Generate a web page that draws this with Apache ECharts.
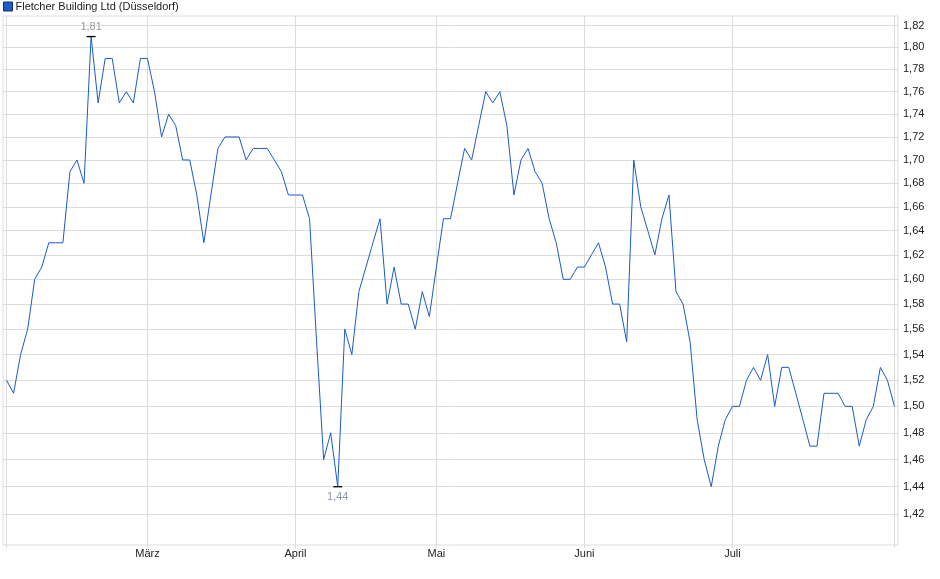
<!DOCTYPE html>
<html>
<head>
<meta charset="utf-8">
<script src="https://cdn.jsdelivr.net/npm/echarts@6/dist/echarts.min.js"></script>
<style>
html,body{margin:0;padding:0;background:#fff;}
#chart{width:940px;height:579px;}
</style>
</head>
<body>
<div id="chart"></div>
<script>
// Trading days (Börse Düsseldorf, 2025)
const febDays = [3,4,5,6,7,10,11,12,13,14,17,18,19,20,21,24,25,26,27,28];
const marDays = [3,4,5,6,7,10,11,12,13,14,17,18,19,20,21,24,25,26,27,28,31];
const aprDays = [1,2,3,4,7,8,9,10,11,14,15,16,17,22,23,24,25,28,29,30];
const mayDays = [2,5,6,7,8,9,12,13,14,15,16,19,20,21,22,23,26,27,28,29,30];
const junDays = [2,3,4,5,6,9,10,11,12,13,16,17,18,19,20,23,24,25,26,27,30];
const julDays = [1,2,3,4,7,8,9,10,11,14,15,16,17,18,21,22,23,24,25,28,29,30,31];
const augDays = [1];

// Prices (EUR)
const febValues = [1.52,1.51,1.54,1.56,1.60,1.61,1.63,1.63,1.63,1.69,1.70,1.68,1.81,1.75,1.79,1.79,1.75,1.76,1.75,1.79];
const marValues = [1.79,1.76,1.72,1.74,1.73,1.70,1.70,1.67,1.63,1.67,1.71,1.72,1.72,1.72,1.70,1.71,1.71,1.71,1.70,1.69,1.67];
const aprValues = [1.67,1.67,1.65,1.55,1.46,1.48,1.44,1.56,1.54,1.59,1.61,1.63,1.65,1.58,1.61,1.58,1.58,1.56,1.59,1.57];
const mayValues = [1.61,1.65,1.65,1.68,1.71,1.70,1.73,1.76,1.75,1.76,1.73,1.67,1.70,1.71,1.69,1.68,1.65,1.63,1.60,1.60,1.61];
const junValues = [1.61,1.62,1.63,1.61,1.58,1.58,1.55,1.70,1.66,1.64,1.62,1.65,1.67,1.59,1.58,1.55,1.49,1.46,1.44,1.47,1.49];
const julValues = [1.50,1.50,1.52,1.53,1.52,1.54,1.50,1.53,1.53,1.51,1.49,1.47,1.47,1.51,1.51,1.51,1.50,1.50,1.47,1.49,1.50,1.53,1.52];
const augValues = [1.50];

const monthKeys = ['2025-02','2025-03','2025-04','2025-05','2025-06','2025-07','2025-08'];
const monthLabels = ['', 'März', 'April', 'Mai', 'Juni', 'Juli', ''];
const yTicks = [1.42,1.44,1.46,1.48,1.50,1.52,1.54,1.56,1.58,1.60,1.62,1.64,1.66,1.68,1.70,1.72,1.74,1.76,1.78,1.80,1.82];
const seriesName = 'Fletcher Building Ltd (Düsseldorf)';

const dayLists = [febDays, marDays, aprDays, mayDays, junDays, julDays, augDays];
const valueLists = [febValues, marValues, aprValues, mayValues, junValues, julValues, augValues];

const categories = [];
const values = [];
const monthStartIdx = {};
const monthStartDates = [];
dayLists.forEach((days, m) => {
  days.forEach((d, i) => {
    const date = monthKeys[m] + '-' + String(d).padStart(2, '0');
    if (i === 0) { monthStartIdx[categories.length] = monthLabels[m]; monthStartDates.push(date); }
    categories.push(date);
    values.push(valueLists[m][i]);
  });
});

const fontFamily = 'Liberation Sans, Arial, sans-serif';
const fmt = v => Number(v).toFixed(2).replace('.', ',');

const chart = echarts.init(document.getElementById('chart'), null, {renderer: 'canvas'});
chart.setOption({
  animation: false,
  textStyle: {fontFamily: fontFamily},
  legend: {
    show: true,
    left: 3, top: 1,
    padding: 0,
    itemWidth: 9, itemHeight: 9, itemGap: 4,
    icon: 'rect',
    selectedMode: false,
    textStyle: {fontSize: 11, color: '#222', fontFamily: fontFamily, padding: [0,0,0,-2]},
    data: [{name: seriesName, itemStyle: {color: '#1c5cc4', borderColor: '#0d2f6e', borderWidth: 1}}]
  },
  grid: {
    left: 3, right: 42, top: 16, bottom: 34,
    show: true, borderColor: '#dcdcdc', borderWidth: 1,
    containLabel: false, outerBoundsMode: 'none'
  },
  xAxis: {
    type: 'category',
    data: categories,
    boundaryGap: true,
    axisLine: {show: false},
    axisTick: {
      show: true, alignWithLabel: true, length: 3,
      interval: (idx) => monthStartIdx.hasOwnProperty(idx),
      lineStyle: {color: '#dcdcdc'}
    },
    splitLine: {show: false},
    axisLabel: {
      show: true,
      interval: (idx) => !!monthStartIdx[idx],
      formatter: (val, idx) => monthStartIdx[idx] || '',
      color: '#222', fontSize: 11, margin: 3, fontFamily: fontFamily
    }
  },
  yAxis: {
    type: 'log',
    logBase: 10,
    position: 'right',
    min: 1.398, max: 1.829,
    axisLine: {show: false},
    axisTick: {show: false, customValues: yTicks},
    splitLine: {show: true, lineStyle: {color: '#dcdcdc', width: 1}},
    axisLabel: {
      customValues: yTicks,
      formatter: fmt,
      color: '#222', fontSize: 11, margin: 5, fontFamily: fontFamily
    }
  },
  series: [{
    name: seriesName,
    type: 'line',
    data: values,
    showSymbol: false,
    symbol: 'none',
    color: '#1c5cc4',
    lineStyle: {color: '#1a5bc6', width: 1},
    z: 3,
    markLine: {
      silent: true,
      symbol: ['none', 'none'],
      z: 1,
      label: {show: false},
      lineStyle: {color: '#dcdcdc', type: 'solid', width: 1},
      emphasis: {disabled: true},
      data: monthStartDates.map(d => ({xAxis: d}))
    },
    markPoint: {
      silent: true,
      symbol: 'rect',
      symbolSize: [9, 1.3],
      itemStyle: {color: '#000'},
      data: [
        {type: 'max', label: {show: true, position: 'top', distance: 3, formatter: p => fmt(p.value), color: '#999', fontSize: 11}},
        {type: 'min', label: {show: true, position: 'bottom', distance: 4, formatter: p => fmt(p.value), color: '#8d97a8', fontSize: 11}}
      ]
    }
  }]
});
</script>
</body>
</html>
